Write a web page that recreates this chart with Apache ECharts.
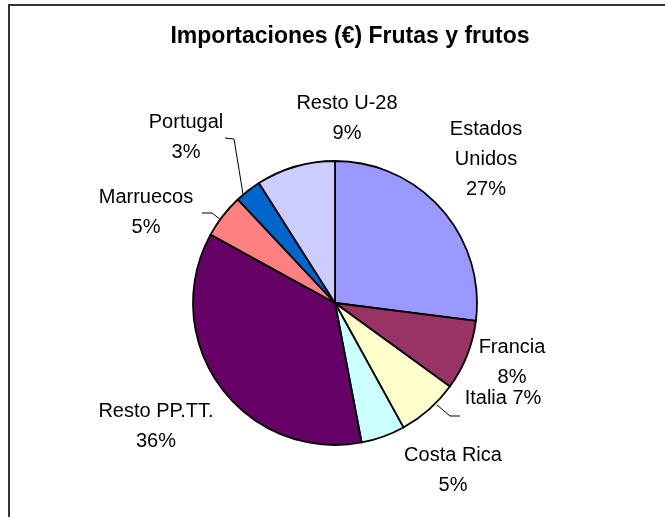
<!DOCTYPE html>
<html>
<head>
<meta charset="utf-8">
<script src="https://cdn.jsdelivr.net/npm/echarts@6/dist/echarts.min.js"></script>
<style>html,body{margin:0;padding:0;background:#fff;}#c{width:665px;height:517px;}</style>
</head>
<body>
<div id="c"></div>
<script>
var categories = ['Estados Unidos', 'Francia', 'Italia', 'Costa Rica', 'Resto PP.TT.', 'Marruecos', 'Portugal', 'Resto U-28'];
var shares = [27, 8, 7, 5, 36, 5, 3, 9];
var colors = ['#9999FF', '#993366', '#FFFFCC', '#CCFFFF', '#660066', '#FF8080', '#0066CC', '#CCCCFF'];
var titleText = 'Importaciones (€) Frutas y frutos';

// label layout (text block centres) and leader lines
var labelPos = [[486,159],[512,362],[503,398],[453,470],[156,426],[146,212],[186,137],[347,118]];
var leaders = {
  2: [[437,405],[450,416],[460,416]],
  5: [[221,220],[212,213],[202,213]],
  6: [[243,194],[234,139],[225,138]]
};

var FONT = "'Liberation Sans', Arial, sans-serif";
var chart = echarts.init(document.getElementById('c'), null, {renderer:'canvas'});
var data = categories.map(function(n, i){
  var d = {name: n, value: shares[i], itemStyle: {color: colors[i]}};
  if (leaders[i]) d.labelLine = {show: true};
  return d;
});
chart.setOption({
  animation: false,
  backgroundColor: '#fff',
  title: {
    text: titleText,
    left: 345, top: 20, textAlign: 'center',
    textStyle: {fontFamily: FONT, fontSize: 23, fontWeight: 'bold', color: '#000'}
  },
  graphic: [{
    type: 'rect', shape: {x: 9, y: 5, width: 700, height: 600},
    style: {fill: null, stroke: '#333', lineWidth: 2}, silent: true
  }],
  series: [{
    type: 'pie',
    center: [335, 303],
    radius: 142,
    startAngle: 90,
    clockwise: true,
    avoidLabelOverlap: false,
    silent: true,
    itemStyle: {borderColor: '#000', borderWidth: 1.8},
    label: {
      show: true, position: 'outside',
      fontFamily: FONT, fontSize: 20, lineHeight: 30, color: '#000',
      formatter: function(p){
        if (p.name === 'Italia') return p.name + ' ' + p.value + '%';
        return p.name.replace('Estados Unidos', 'Estados\nUnidos') + '\n' + p.value + '%';
      }
    },
    labelLine: {show: false, lineStyle: {color: '#000', width: 1}},
    labelLayout: function(params){
      var p = labelPos[params.dataIndex];
      var r = {x: p[0], y: p[1], align: 'center', verticalAlign: 'middle'};
      if (leaders[params.dataIndex]) r.labelLinePoints = leaders[params.dataIndex];
      return r;
    },
    data: data
  }]
});
</script>
</body>
</html>
